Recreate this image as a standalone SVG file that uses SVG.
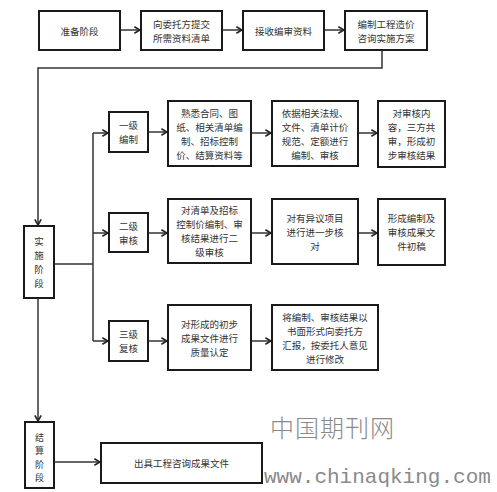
<svg xmlns="http://www.w3.org/2000/svg" width="497" height="492" viewBox="0 0 497 492">
<style>
.b{fill:#fff;stroke:#1a1a1a;stroke-width:2}
.t{font-family:"Noto Sans CJK SC","Noto Sans",sans-serif;font-size:9.5px;fill:#333;text-anchor:middle;dominant-baseline:central}
.s{font-size:9px}
.c{fill:none;stroke:#333;stroke-width:1.5}
.wm{fill:#8a8a8a}
</style>
<defs>
<marker id="a" viewBox="0 0 10 10" refX="9" refY="5" markerWidth="8" markerHeight="8" markerUnits="userSpaceOnUse" orient="auto">
<polyline points="2,1 9,5 2,9" fill="none" stroke="#222" stroke-width="2"/>
</marker>
</defs>
<rect width="497" height="492" fill="#fff"/>
<g id="connectors">
<line class="c" x1="120" y1="30" x2="140" y2="30" marker-end="url(#a)"/>
<line class="c" x1="222" y1="30" x2="242" y2="30" marker-end="url(#a)"/>
<line class="c" x1="324" y1="30" x2="344" y2="30" marker-end="url(#a)"/>
<polyline class="c" points="382,50 382,68 38,68 38,225" marker-end="url(#a)"/>
<line class="c" x1="38" y1="298" x2="38" y2="421" marker-end="url(#a)"/>
<line class="c" x1="54" y1="264" x2="93" y2="264"/>
<line class="c" x1="93" y1="133" x2="93" y2="341"/>
<line class="c" x1="93" y1="133" x2="108" y2="133" marker-end="url(#a)"/>
<line class="c" x1="93" y1="233" x2="108" y2="233" marker-end="url(#a)"/>
<line class="c" x1="93" y1="341" x2="108" y2="341" marker-end="url(#a)"/>
<line class="c" x1="148" y1="132" x2="167" y2="132" marker-end="url(#a)"/>
<line class="c" x1="251" y1="133" x2="271" y2="133" marker-end="url(#a)"/>
<line class="c" x1="358" y1="133" x2="377" y2="133" marker-end="url(#a)"/>
<line class="c" x1="148" y1="233" x2="167" y2="233" marker-end="url(#a)"/>
<line class="c" x1="251" y1="233" x2="271" y2="233" marker-end="url(#a)"/>
<line class="c" x1="358" y1="233" x2="377" y2="233" marker-end="url(#a)"/>
<line class="c" x1="148" y1="341" x2="167" y2="341" marker-end="url(#a)"/>
<line class="c" x1="251" y1="341" x2="271" y2="341" marker-end="url(#a)"/>
<line class="c" x1="54" y1="462" x2="100" y2="462" marker-end="url(#a)"/>
</g>
<g id="n1"><rect class="b" x="39" y="11" width="81" height="39"/><text class="t" x="79.5" y="30.5">准备阶段</text></g>
<g id="n2"><rect class="b" x="141" y="11" width="81" height="39"/><text class="t"><tspan x="181.5" y="23.5">向委托方提交</tspan><tspan x="181.5" y="37.5">所需资料清单</tspan></text></g>
<g id="n3"><rect class="b" x="243" y="11" width="81" height="39"/><text class="t" x="283.5" y="30.5">接收编审资料</text></g>
<g id="n4"><rect class="b" x="345" y="11" width="82" height="39"/><text class="t"><tspan x="386" y="23.5">编制工程造价</tspan><tspan x="386" y="37.5">咨询实施方案</tspan></text></g>
<g id="n5"><rect class="b" x="24" y="226" width="30" height="72"/><text class="t"><tspan x="39" y="241">实</tspan><tspan x="39" y="255">施</tspan><tspan x="39" y="269">阶</tspan><tspan x="39" y="283">段</tspan></text></g>
<g id="n6"><rect class="b" x="109" y="112" width="39" height="40"/><text class="t"><tspan x="128.5" y="125">一级</tspan><tspan x="128.5" y="139">编制</tspan></text></g>
<g id="n7"><rect class="b" x="168" y="101" width="83" height="65"/><text class="t"><tspan x="209.5" y="112.5">熟悉合同、图</tspan><tspan x="209.5" y="126.5">纸、相关清单编</tspan><tspan x="209.5" y="140.5">制、招标控制</tspan><tspan x="209.5" y="154.5">价、结算资料等</tspan></text></g>
<g id="n8"><rect class="b" x="272" y="101" width="86" height="65"/><text class="t"><tspan x="315" y="112.5">依据相关法规、</tspan><tspan x="315" y="126.5">文件、清单计价</tspan><tspan x="315" y="140.5">规范、定额进行</tspan><tspan x="315" y="154.5">编制、审核</tspan></text></g>
<g id="n9"><rect class="b" x="378" y="101" width="67" height="66"/><text class="t"><tspan x="411.5" y="113">对审核内</tspan><tspan x="411.5" y="127">容，三方共</tspan><tspan x="411.5" y="141">审，形成初</tspan><tspan x="411.5" y="155">步审核结果</tspan></text></g>
<g id="n10"><rect class="b" x="109" y="213" width="39" height="39"/><text class="t"><tspan x="128.5" y="225.5">二级</tspan><tspan x="128.5" y="239.5">审核</tspan></text></g>
<g id="n11"><rect class="b" x="168" y="199" width="83" height="64"/><text class="t"><tspan x="209.5" y="210">对清单及招标</tspan><tspan x="209.5" y="224">控制价编制、审</tspan><tspan x="209.5" y="238">核结果进行二</tspan><tspan x="209.5" y="252">级审核</tspan></text></g>
<g id="n12"><rect class="b" x="272" y="199" width="86" height="65"/><text class="t"><tspan x="315" y="218">对有异议项目</tspan><tspan x="315" y="232">进行进一步核</tspan><tspan x="315" y="246">对</tspan></text></g>
<g id="n13"><rect class="b" x="378" y="199" width="67" height="66"/><text class="t"><tspan x="411.5" y="218">形成编制及</tspan><tspan x="411.5" y="232">审核成果文</tspan><tspan x="411.5" y="246">件初稿</tspan></text></g>
<g id="n14"><rect class="b" x="109" y="321" width="39" height="40"/><text class="t"><tspan x="128.5" y="334">三级</tspan><tspan x="128.5" y="348">复核</tspan></text></g>
<g id="n15"><rect class="b" x="168" y="305" width="83" height="65"/><text class="t"><tspan x="209.5" y="324">对形成的初步</tspan><tspan x="209.5" y="338">成果文件进行</tspan><tspan x="209.5" y="352">质量认定</tspan></text></g>
<g id="n16"><rect class="b" x="272" y="305" width="106" height="65"/><text class="t"><tspan x="325" y="316.5">将编制、审核结果以</tspan><tspan x="325" y="330.5">书面形式向委托方</tspan><tspan x="325" y="344.5">汇报，按委托人意见</tspan><tspan x="325" y="358.5">进行修改</tspan></text></g>
<g id="n17"><rect class="b" x="25" y="422" width="29" height="66"/><text class="t s"><tspan x="39.5" y="437.2">结</tspan><tspan x="39.5" y="450.4">算</tspan><tspan x="39.5" y="463.6">阶</tspan><tspan x="39.5" y="476.8">段</tspan></text></g>
<g id="n18"><rect class="b" x="101" y="443" width="161" height="40"/><text class="t" x="181.5" y="463">出具工程咨询成果文件</text></g>
<text class="wm" x="270" y="437" style="font-family:'Noto Sans CJK SC',sans-serif;font-size:24px;font-weight:300;letter-spacing:1px">中国期刊网</text>
<text class="wm" x="264" y="483" style="font-family:'Liberation Mono','DejaVu Sans Mono',monospace;font-size:21px">www.chinaqking.com</text>
</svg>
